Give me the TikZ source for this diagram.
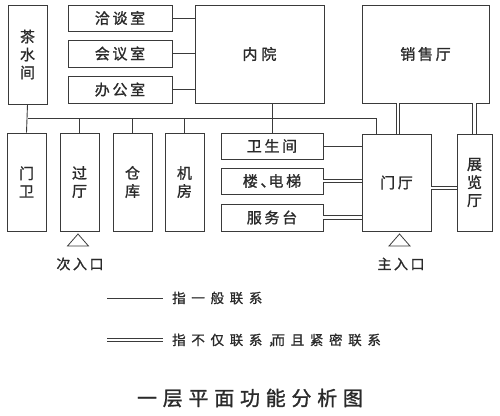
\documentclass[tikz,border=0pt]{standalone}
\usepackage{fontspec}
\setmainfont{Noto Sans CJK SC}
\newfontfamily\boxfont[LetterSpace=18,FakeBold=1.2]{Noto Sans CJK SC}
\newfontfamily\legfont[LetterSpace=42,FakeBold=1]{Noto Sans CJK SC}
\newfontfamily\plainfont[FakeBold=1.2]{Noto Sans CJK SC}
\usetikzlibrary{calc}
\definecolor{linec}{HTML}{3A3A3A}
\definecolor{textc}{HTML}{2A2A2A}
\begin{document}
\begin{tikzpicture}[x=1pt,y=-1pt,
  room/.style={draw=linec, line width=0.9pt, inner sep=0pt, text=textc,
    font=\boxfont\fontsize{15pt}{18pt}\selectfont, align=center},
  single/.style={draw=linec, line width=0.9pt},
  dbl/.style={draw=linec, line width=0.8pt, double=white, double distance=2.6pt},
  lbl/.style={text=textc, inner sep=0pt, font=\boxfont\fontsize{14pt}{16pt}\selectfont},
  leg/.style={text=textc, inner sep=0pt, anchor=west, font=\legfont\fontsize{13.5pt}{16pt}\selectfont}]
\useasboundingbox (0,0) rectangle (500,415);
% upper row
\node[room, minimum width=39pt, minimum height=99pt] (chashui) at (27.5,54.5)
  {\fontsize{15pt}{25pt}\selectfont 茶\\水\\间};
\node[room, minimum width=104pt, minimum height=26pt] (qiatan) at (120,18) {洽谈室};
\node[room, minimum width=104pt, minimum height=27pt] (huiyi) at (120,53.5) {会议室};
\node[room, minimum width=104pt, minimum height=27pt] (bangong) at (120,89.5) {办公室};
\node[room, minimum width=129pt, minimum height=98pt] (neiyuan) at (259.5,54) {内\hspace{4pt}院};
\node[room, minimum width=127pt, minimum height=98pt] (xiaoshou) at (425.5,54) {销售厅};
% lower row
\node[room, minimum width=39pt, minimum height=98pt] (menwei) at (26.5,182)
  {\fontsize{15pt}{49pt}\selectfont 门\\卫};
\node[room, minimum width=39pt, minimum height=98pt] (guoting) at (79.5,182)
  {\fontsize{15pt}{46pt}\selectfont 过\\厅};
\node[room, minimum width=39pt, minimum height=98pt] (cangku) at (132.5,182)
  {\fontsize{15pt}{46pt}\selectfont 仓\\库};
\node[room, minimum width=39pt, minimum height=98pt] (jifang) at (184.5,182)
  {\fontsize{15pt}{46pt}\selectfont 机\\房};
\node[room, minimum width=102pt, minimum height=26pt] (weisheng) at (272,146) {卫生间};
\node[room, minimum width=102pt, minimum height=26pt] (dianti) at (272,181) {楼、\hspace{-7pt}电梯};
\node[room, minimum width=102pt, minimum height=27pt] (fuwu) at (272,217.5) {服务台};
\node[room, minimum width=69pt, minimum height=97pt] (menting) at (396.5,182.5) {门厅};
\node[room, minimum width=35pt, minimum height=97pt] (zhanlan) at (474.5,182.5)
  {\fontsize{15pt}{20pt}\selectfont 展\\览\\厅};
% connectors to 内院
\draw[single] (qiatan.east) -- (qiatan.east -| neiyuan.west);
\draw[single] (huiyi.east) -- (huiyi.east -| neiyuan.west);
\draw[single] (bangong.east) -- (bangong.east -| neiyuan.west);
% bus
\coordinate (bus) at (0,118);
\coordinate (busR) at (376,118);
\draw[single] (chashui.south) -- (menwei.north);
\draw[single] (bus -| chashui.south) -- (busR) -- (busR |- menting.north);
\draw[single] (bus -| guoting.north) -- (guoting.north);
\draw[single] (bus -| cangku.north) -- (cangku.north);
\draw[single] (bus -| jifang.north) -- (jifang.north);
\draw[single] (weisheng.north) -- (weisheng.north |- neiyuan.south);
% 门厅 connections
\draw[single] (weisheng.east) -- (weisheng.east -| menting.west);
\draw[dbl] (dianti.east) -- (dianti.east -| menting.west);
\draw[dbl] (fuwu.east) -- (fuwu.east -| menting.west);
\coordinate (mtx) at (398,0);
\draw[dbl] (mtx |- xiaoshou.south) -- (mtx |- menting.north);
\draw[dbl] (zhanlan.north) -- (zhanlan.north |- xiaoshou.south);
\coordinate (mz) at (0,188);
\draw[dbl] (mz -| menting.east) -- (mz -| zhanlan.west);
% entrances
\coordinate (t1) at (78,234);
\coordinate (t2) at (399.5,234);
\draw[single, line width=0.8pt] (t1) -- ++(-10.5,12) -- ++(21,0) -- cycle;
\draw[single, line width=0.8pt] (t2) -- ++(-10.5,12) -- ++(21,0) -- cycle;
\node[lbl] (ciru) at (80,264) {次入口};
\node[lbl] (zhuru) at (401,264) {主入口};
% legend
\coordinate (l1a) at (107,298);
\coordinate (l1b) at (163,298);
\coordinate (l2a) at (107,340);
\coordinate (l2b) at (163,340);
\draw[single] (l1a) -- (l1b);
\draw[dbl] (l2a) -- (l2b);
\node[leg] (leg1) at (172,298) {指一般联系};
\node[leg] (leg2) at (172,340) {指不仅联系，\hspace{-10pt}而且紧密联系};
% title
\node[text=textc, inner sep=0pt, font=\plainfont\fontsize{20pt}{22pt}\selectfont] (title) at (250,398)
  {\makebox[226pt][s]{一\hfill 层\hfill 平\hfill 面\hfill 功\hfill 能\hfill 分\hfill 析\hfill 图}};
\end{tikzpicture}
\end{document}
